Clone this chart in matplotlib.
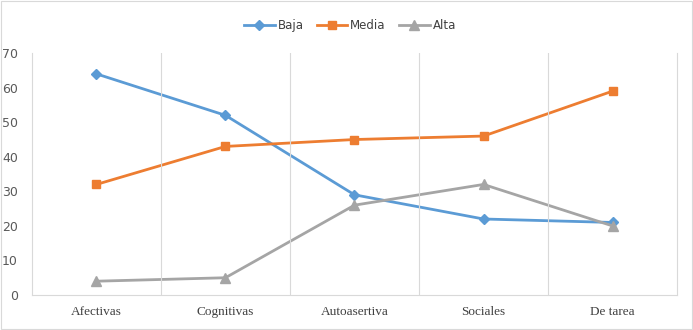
import numpy as np
import matplotlib.pyplot as plt

categorias = ["Afectivas", "Cognitivas", "Autoasertiva", "Sociales", "De tarea"]
baja = [64, 52, 29, 22, 21]
media = [32, 43, 45, 46, 59]
alta = [4, 5, 26, 32, 20]

fig = plt.figure(figsize=(6.93, 3.30), dpi=100)
ax = fig.add_axes([0.046, 0.106, 0.931, 0.733])

x = np.arange(len(categorias))
ax.plot(x, baja, color="#5B9BD5", lw=2, marker="D", ms=5, label="Baja")
ax.plot(x, media, color="#ED7D31", lw=2, marker="s", ms=6, label="Media")
ax.plot(x, alta, color="#A5A5A5", lw=2, marker="^", ms=7, label="Alta")

ax.set_xlim(-0.5, len(categorias) - 0.5)
ax.set_ylim(0, 70)
ax.set_yticks(range(0, 71, 10))
ax.set_xticks(x)
ax.set_xticklabels(categorias, family="Liberation Serif", fontsize=9.5, color="#404040")
ax.tick_params(axis="y", labelsize=9, colors="#595959", length=0, pad=10)
ax.tick_params(axis="x", length=0, pad=8)

# separadores verticales entre categorias
for b in np.arange(0.5, len(categorias) - 0.5, 1):
    ax.axvline(b, color="#D9D9D9", lw=0.8)
ax.spines["top"].set_visible(False)
for s in ["left", "bottom", "right"]:
    ax.spines[s].set_color("#D9D9D9")

fig.legend(loc="upper center", bbox_to_anchor=(0.505, 0.975), ncol=3, frameon=False,
           fontsize=8.5, handlelength=2.6, columnspacing=1.1, handletextpad=0.25,
           labelcolor="#404040")

fig.patches.append(plt.Rectangle((0.001, 0.002), 0.997, 0.995, transform=fig.transFigure,
                                 fill=False, edgecolor="#D9D9D9", lw=0.8))

fig.savefig("out.png", dpi=100)
